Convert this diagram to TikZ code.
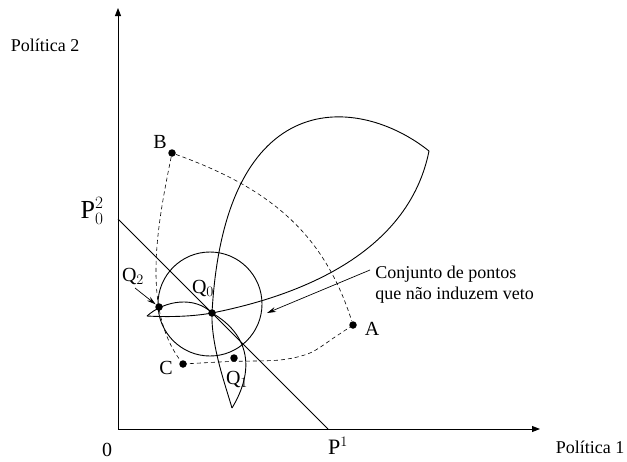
\documentclass[tikz,border=0pt]{standalone}
\usepackage{fontspec}
\setmainfont{Liberation Serif}
\usetikzlibrary{arrows.meta}
\tikzset{
  dot/.style={circle,fill=black,inner sep=0pt,minimum size=7.5pt},
  lbl/.style={inner sep=0pt,font=\fontsize{20}{24}\selectfont},
  dashline/.style={line width=0.6pt,dash pattern=on 4pt off 3pt},
  axis/.style={-{Triangle[length=8pt,width=6pt]}},
  pointer/.style={-{Stealth[length=9pt,width=5pt]},line width=0.7pt}
}
\begin{document}
\begin{tikzpicture}[x=1pt,y=-1pt,line width=0.9pt,font=\fontsize{18}{21}\selectfont]
  \useasboundingbox (0,0) rectangle (627,461);
  \def\rc{52}
  \coordinate (O) at (118,429);
  \coordinate (Ytop) at (118,8);
  \coordinate (Xend) at (540,429);
  \coordinate (P2) at (118,219);
  \coordinate (P1) at (328,429);
  \coordinate (M) at (210,304);
  \coordinate (Q0) at (212,313);
  \coordinate (tip) at (429,151);
  \coordinate (bot) at (232,408);
  \coordinate (left) at (147,316);
  % axes
  \draw[axis] (O) -- (Ytop);
  \draw[axis] (O) -- (Xend);
  \node[inner sep=0pt] (pol2) at (45,45) {Política 2};
  \node[inner sep=0pt] (pol1) at (590,447) {Política 1};
  \node[lbl] (zero) at (107,450) {0};
  \node[lbl,font=\fontsize{22}{26}\selectfont] (p1lbl) at (338,446) {$\mathrm{P}^1$};
  \node[lbl,font=\fontsize{26}{30}\selectfont] (p2lbl) at (92,211) {$\mathrm{P}_0^2$};
  % budget line
  \draw (P2) -- (P1);
  % circle round Q0
  \draw (M) circle (\rc);
  % big petal, its lower edge and the lower petal
  \draw (bot) .. controls (225,384) and (211,345) .. (Q0)
    .. controls (224.5,83) and (359,95) .. (tip);
  \draw (tip) .. controls (411,241) and (323,291) .. (Q0)
    .. controls (190,317) and (165,317) .. (left);
  \draw (bot) .. controls (255,370) and (250,335) .. (Q0);
  % small left petal
  \draw (left) .. controls (165,300) and (195,296) .. (Q0);
  % points
  \node[dot] (q0) at (Q0) {};
  \node[dot] (q1) at (234,358) {};
  \node[dot] (q2) at (159,307) {};
  \node[dot] (a) at (353,325) {};
  \node[dot] (b) at (172,153) {};
  \node[dot] (c) at (183,364) {};
  \node[lbl] (q0lbl) at (203,288) {$\mathrm{Q}_0$};
  \node[lbl] (q1lbl) at (237,379) {$\mathrm{Q}_1$};
  \node[lbl] (q2lbl) at (133,276) {$\mathrm{Q}_2$};
  \node[lbl] (albl) at (372,329) {A};
  \node[lbl] (blbl) at (160,142) {B};
  \node[lbl] (clbl) at (166,368) {C};
  % dashed triangle
  \draw[dashline] (b) .. controls (266,187) and (323,230) .. (a);
  \draw[dashline] (b) .. controls (158,222) and (141,308) .. (c);
  \draw[dashline] plot[smooth] coordinates {(c) (230,361.5) (280,360) (310,353) (335,337) (a)};
  % pointers
  \coordinate (q2tail) at (135,288);
  \draw[pointer] (q2tail) -- (q2);
  \node[inner sep=0pt,align=left,anchor=west] (veto) at (375,285) {Conjunto de pontos\\que não induzem veto};
  \coordinate (vtail) at (370,270);
  \coordinate (vhead) at (267,313);
  \draw[pointer] (vtail) -- (vhead);
\end{tikzpicture}
\end{document}
